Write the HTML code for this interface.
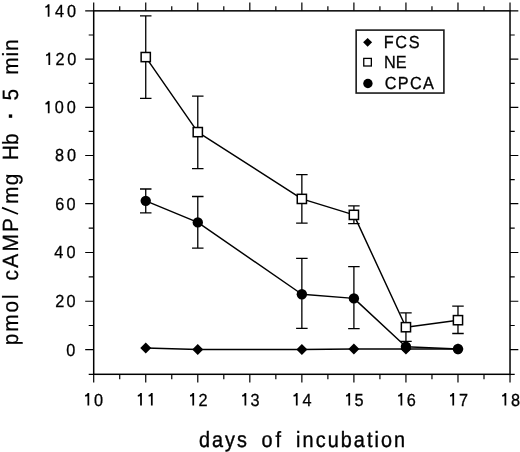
<!DOCTYPE html>
<html><head><meta charset="utf-8"><style>
html,body{margin:0;padding:0;background:#fff;}
svg{display:block;font-family:"Liberation Sans",sans-serif;will-change:transform;text-rendering:geometricPrecision;}
</style></head><body>
<svg width="520" height="452" viewBox="0 0 520 452">
<rect x="93.70" y="10.85" width="416.32" height="363.45" fill="none" stroke="#000" stroke-width="1.5"/>
<path d="M93.70 374.30V382.60M93.70 10.85V2.55M145.74 374.30V382.60M145.74 10.85V2.55M197.78 374.30V382.60M197.78 10.85V2.55M249.82 374.30V382.60M249.82 10.85V2.55M301.86 374.30V382.60M301.86 10.85V2.55M353.90 374.30V382.60M353.90 10.85V2.55M405.94 374.30V382.60M405.94 10.85V2.55M457.98 374.30V382.60M457.98 10.85V2.55M510.02 374.30V382.60M510.02 10.85V2.55M119.72 374.30V379.30M119.72 10.85V6.35M171.76 374.30V379.30M171.76 10.85V6.35M223.80 374.30V379.30M223.80 10.85V6.35M275.84 374.30V379.30M275.84 10.85V6.35M327.88 374.30V379.30M327.88 10.85V6.35M379.92 374.30V379.30M379.92 10.85V6.35M431.96 374.30V379.30M431.96 10.85V6.35M484.00 374.30V379.30M484.00 10.85V6.35M93.70 349.70H85.20M510.02 349.70H518.32M93.70 301.25H85.20M510.02 301.25H518.32M93.70 252.50H85.20M510.02 252.50H518.32M93.70 203.60H85.20M510.02 203.60H518.32M93.70 155.50H85.20M510.02 155.50H518.32M93.70 107.45H85.20M510.02 107.45H518.32M93.70 59.10H85.20M510.02 59.10H518.32M93.70 10.85H85.20M510.02 10.85H518.32M93.70 325.48H88.70M510.02 325.48H514.72M93.70 276.88H88.70M510.02 276.88H514.72M93.70 228.05H88.70M510.02 228.05H514.72M93.70 179.55H88.70M510.02 179.55H514.72M93.70 131.47H88.70M510.02 131.47H514.72M93.70 83.28H88.70M510.02 83.28H514.72M93.70 34.98H88.70M510.02 34.98H514.72M93.70 374.30H88.70M510.02 374.30H514.72" stroke="#000" stroke-width="1.2" fill="none"/>
<path d="M145.74 15.93V98.46M139.99 15.93H151.49M139.99 98.46H151.49M197.78 96.04V168.65M192.03 96.04H203.53M192.03 168.65H203.53M301.86 174.71V223.11M296.11 174.71H307.61M296.11 223.11H307.61M353.90 205.93V223.60M348.15 205.93H359.65M348.15 223.60H359.65M405.94 312.91V341.47M400.19 312.91H411.69M400.19 341.47H411.69M457.98 306.13V333.48M452.23 306.13H463.73M452.23 333.48H463.73M145.74 188.99V212.95M139.99 188.99H151.49M139.99 212.95H151.49M197.78 196.49V248.04M192.03 196.49H203.53M192.03 248.04H203.53M301.86 258.45V328.40M296.11 258.45H307.61M296.11 328.40H307.61M353.90 266.68V328.64M348.15 266.68H359.65M348.15 328.64H359.65" stroke="#000" stroke-width="1.3" fill="none"/>
<polyline points="145.74,348.01 197.78,349.46 301.86,349.46 353.90,348.97 405.94,349.09 457.98,349.09" stroke="#000" stroke-width="1.45" fill="none" stroke-linejoin="round"/>
<polyline points="145.74,200.85 197.78,222.39 301.86,294.27 353.90,298.39 405.94,346.80 457.98,348.97" stroke="#000" stroke-width="1.45" fill="none" stroke-linejoin="round"/>
<polyline points="145.74,57.07 197.78,132.11 301.86,198.91 353.90,214.88 405.94,327.19 457.98,320.17" stroke="#000" stroke-width="1.45" fill="none" stroke-linejoin="round"/>
<path d="M140.24 348.01L145.74 342.51L151.24 348.01L145.74 353.51Z" fill="#000"/>
<path d="M192.28 349.46L197.78 343.96L203.28 349.46L197.78 354.96Z" fill="#000"/>
<path d="M296.36 349.46L301.86 343.96L307.36 349.46L301.86 354.96Z" fill="#000"/>
<path d="M348.40 348.97L353.90 343.47L359.40 348.97L353.90 354.47Z" fill="#000"/>
<path d="M400.44 349.09L405.94 343.59L411.44 349.09L405.94 354.59Z" fill="#000"/>
<path d="M452.48 349.09L457.98 343.59L463.48 349.09L457.98 354.59Z" fill="#000"/>
<rect x="141.14" y="52.47" width="9.20" height="9.20" fill="#fff" stroke="#000" stroke-width="1.5"/>
<rect x="193.18" y="127.51" width="9.20" height="9.20" fill="#fff" stroke="#000" stroke-width="1.5"/>
<rect x="297.26" y="194.31" width="9.20" height="9.20" fill="#fff" stroke="#000" stroke-width="1.5"/>
<rect x="349.30" y="210.28" width="9.20" height="9.20" fill="#fff" stroke="#000" stroke-width="1.5"/>
<rect x="401.34" y="322.59" width="9.20" height="9.20" fill="#fff" stroke="#000" stroke-width="1.5"/>
<rect x="453.38" y="315.57" width="9.20" height="9.20" fill="#fff" stroke="#000" stroke-width="1.5"/>
<circle cx="145.74" cy="200.85" r="5.2" fill="#000"/>
<circle cx="197.78" cy="222.39" r="5.2" fill="#000"/>
<circle cx="301.86" cy="294.27" r="5.2" fill="#000"/>
<circle cx="353.90" cy="298.39" r="5.2" fill="#000"/>
<circle cx="405.94" cy="346.80" r="5.2" fill="#000"/>
<circle cx="457.98" cy="348.97" r="5.2" fill="#000"/>
<rect x="356.15" y="30.1" width="87.75" height="62.95" fill="#fff" stroke="#1a1a1a" stroke-width="1.6"/>
<path d="M363.1 42.3L367.6 37.9L372.1 42.3L367.6 46.7Z" fill="#000"/>
<rect x="363.75" y="58.4" width="7.6" height="7.6" fill="#fff" stroke="#000" stroke-width="1.3"/>
<circle cx="367.9" cy="83.5" r="4.7" fill="#000"/>
<g font-size="17.5" text-anchor="middle" stroke="#000" stroke-width="0.3"><text transform="translate(98.60,405.50) scale(0.93,1)">0</text><text transform="translate(203.10,405.50) scale(0.93,1)">2</text><text transform="translate(255.10,405.50) scale(0.93,1)">3</text><text transform="translate(307.10,405.50) scale(0.93,1)">4</text><text transform="translate(359.00,405.50) scale(0.93,1)">5</text><text transform="translate(411.25,405.50) scale(0.93,1)">6</text><text transform="translate(463.40,405.50) scale(0.93,1)">7</text><text transform="translate(515.50,405.50) scale(0.93,1)">8</text><text transform="translate(70.75,355.62) scale(0.93,1)">0</text><text transform="translate(59.65,307.17) scale(0.93,1)">2</text><text transform="translate(71.10,307.17) scale(0.93,1)">0</text><text transform="translate(58.75,258.42) scale(0.93,1)">4</text><text transform="translate(71.00,258.42) scale(0.93,1)">0</text><text transform="translate(59.70,209.52) scale(0.93,1)">6</text><text transform="translate(71.00,209.52) scale(0.93,1)">0</text><text transform="translate(59.55,161.42) scale(0.93,1)">8</text><text transform="translate(71.40,161.42) scale(0.93,1)">0</text><text transform="translate(59.15,113.37) scale(0.93,1)">0</text><text transform="translate(71.25,113.37) scale(0.93,1)">0</text><text transform="translate(59.90,65.02) scale(0.93,1)">2</text><text transform="translate(71.80,65.02) scale(0.93,1)">0</text><text transform="translate(59.40,16.77) scale(0.93,1)">4</text><text transform="translate(71.60,16.77) scale(0.93,1)">0</text></g>
<path d="M88.35 393.06V405.50M88.55 393.36Q87.35 395.66 85.15 395.96M141.00 393.06V405.50M141.20 393.36Q140.00 395.66 137.80 395.96M151.80 393.06V405.50M152.00 393.36Q150.80 395.66 148.60 395.96M193.25 393.06V405.50M193.45 393.36Q192.25 395.66 190.05 395.96M245.40 393.06V405.50M245.60 393.36Q244.40 395.66 242.20 395.96M296.75 393.06V405.50M296.95 393.36Q295.75 395.66 293.55 395.96M349.25 393.06V405.50M349.45 393.36Q348.25 395.66 346.05 395.96M401.40 393.06V405.50M401.60 393.36Q400.40 395.66 398.20 395.96M453.25 393.06V405.50M453.45 393.36Q452.25 395.66 450.05 395.96M505.40 393.06V405.50M505.60 393.36Q504.40 395.66 502.20 395.96M48.70 100.93V113.37M48.90 101.23Q47.70 103.53 45.50 103.83M49.30 52.58V65.02M49.50 52.88Q48.30 55.18 46.10 55.48M48.60 4.33V16.77M48.80 4.63Q47.60 6.93 45.40 7.23" stroke="#000" stroke-width="1.75" fill="none"/>
<g><text transform="translate(383.83,48.40) scale(0.93,1)" font-size="17.5" letter-spacing="1.70" stroke="#000" stroke-width="0.3">FCS</text><text transform="translate(383.89,68.30) scale(0.93,1)" font-size="17.5" letter-spacing="0.01" stroke="#000" stroke-width="0.3">NE</text><text transform="translate(384.74,89.40) scale(0.93,1)" font-size="17.5" letter-spacing="1.42" stroke="#000" stroke-width="0.3">CPCA</text><text transform="translate(198.89,447.00) scale(0.9,1)" font-size="22" letter-spacing="2.27" stroke="#000" stroke-width="0.4">days</text><text transform="translate(261.40,447.00) scale(0.9,1)" font-size="22" letter-spacing="3.55" stroke="#000" stroke-width="0.4">of</text><text transform="translate(296.11,447.00) scale(0.9,1)" font-size="22" letter-spacing="2.31" stroke="#000" stroke-width="0.4">incubation</text><text transform="translate(18.30,345.14) rotate(-90) scale(0.95,1)" font-size="22" letter-spacing="1.92" stroke="#000" stroke-width="0.25">pmol</text><text transform="translate(18.30,280.40) rotate(-90) scale(0.95,1)" font-size="22" letter-spacing="2.31" stroke="#000" stroke-width="0.25">cAMP</text><text transform="translate(18.30,203.91) rotate(-90) scale(0.95,1)" font-size="22" letter-spacing="1.40" stroke="#000" stroke-width="0.25">mg</text><text transform="translate(18.30,160.21) rotate(-90) scale(0.95,1)" font-size="22" letter-spacing="0.19" stroke="#000" stroke-width="0.25">Hb</text><text transform="translate(18.30,100.38) rotate(-90) scale(0.95,1)" font-size="22" letter-spacing="1.80" stroke="#000" stroke-width="0.25">5</text><text transform="translate(18.30,74.83) rotate(-90) scale(0.95,1)" font-size="22" letter-spacing="0.88" stroke="#000" stroke-width="0.25">min</text></g>
<rect x="8.8" y="114.4" width="3.4" height="3.4" fill="#000"/>
<path d="M18.0 214.0L2.0 207.6" stroke="#000" stroke-width="1.8"/>
</svg>
</body></html>
